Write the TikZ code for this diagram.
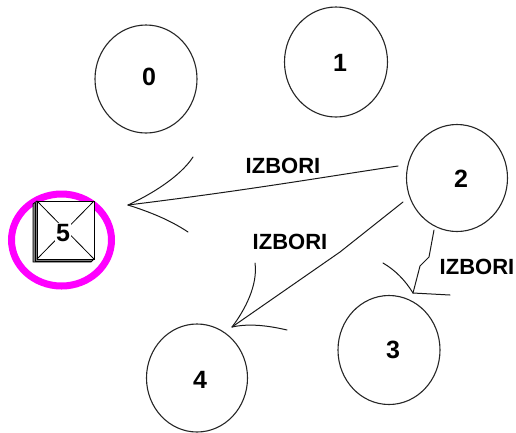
\documentclass[tikz,border=0pt]{standalone}
\usepackage{fontspec}
\setmainfont{Liberation Sans}
\usetikzlibrary{shapes.geometric}
\definecolor{ringmag}{RGB}{255,0,255}
\begin{document}
\begin{tikzpicture}[x=1pt,y=-1pt,
  statenode/.style={ellipse,draw=black!85,line width=1.1pt,inner sep=0pt,outer sep=0pt},
  numlabel/.style={font=\bfseries\fontsize{25}{29}\selectfont,inner sep=0pt},
  edgelabel/.style={font=\bfseries\fontsize{22}{26}\selectfont,inner sep=0pt},
  conn/.style={line width=1pt,black!90,line cap=round,line join=round}]
\useasboundingbox (0,0) rectangle (516,432);
% state circles
\node[statenode,minimum width=102pt,minimum height=108pt] (n0) at (146,79) {};
\node[statenode,minimum width=103pt,minimum height=110pt] (n1) at (336,62) {};
\node[statenode,minimum width=101pt,minimum height=107pt] (n2) at (457,178) {};
\node[statenode,minimum width=102pt,minimum height=109pt] (n3) at (389,350) {};
\node[statenode,minimum width=101pt,minimum height=108pt] (n4) at (197,378) {};
\node[numlabel] (l0) at (149,77) {0};
\node[numlabel] (l1) at (340,63) {1};
\node[numlabel] (l2) at (461,179) {2};
\node[numlabel] (l3) at (393,350) {3};
\node[numlabel] (l4) at (200,380) {4};
% state 5: magenta ring and box
\node[ellipse,draw=ringmag,line width=7pt,minimum width=100pt,minimum height=92pt,inner sep=0pt] (n5) at (61.5,240) {};
\fill[black!50] (37,201) -- (33,204) -- (33,262) -- (91,262) -- (94,259) -- (37,259) -- cycle;
\draw[black,line width=0.8pt] (37,201) -- (33,204) -- (33,262) -- (91,262) -- (94,259);
\draw[black,line width=0.6pt] (35,203) -- (35,261) -- (92,261);
\draw[black,line width=1pt,fill=white] (37,201) rectangle (94,259);
\draw[black,line width=0.8pt] (37,201) -- (94,259) (94,201) -- (37,259);
\node[numlabel,fill=white,inner sep=1.5pt] (l5) at (63,233) {5};
% connector 2 -> 5
\coordinate (s25) at (398,166);
\coordinate (t25) at (128,205);
\draw[conn] (s25) .. controls (330,176) and (250,190) .. (t25);
\draw[conn] (193,157) .. controls (180,177) and (150,195) .. (t25);
\draw[conn] (t25) .. controls (150,212) and (170,220) .. (188,232);
\node[edgelabel] (e25) at (283,166) {IZBORI};
% connector 2 -> 4
\coordinate (s24) at (403,202);
\coordinate (k24) at (340,252);
\coordinate (t24) at (232,327);
\draw[conn] (s24) -- (k24) -- (t24);
\draw[conn] (255,263) .. controls (258,285) and (245,310) .. (t24);
\draw[conn] (t24) .. controls (250,323) and (270,326) .. (287,330);
\node[edgelabel] (e24) at (290,242) {IZBORI};
% connector 2 -> 3
\coordinate (s23) at (434,230);
\coordinate (t23) at (413,293);
\draw[conn] (s23) -- (429,257) -- (420,266) -- (t23);
\draw[conn] (383,263) .. controls (395,270) and (405,280) .. (t23);
\draw[conn] (t23) -- (450,295);
\node[edgelabel] (e23) at (477,267) {IZBORI};
\end{tikzpicture}
\end{document}
